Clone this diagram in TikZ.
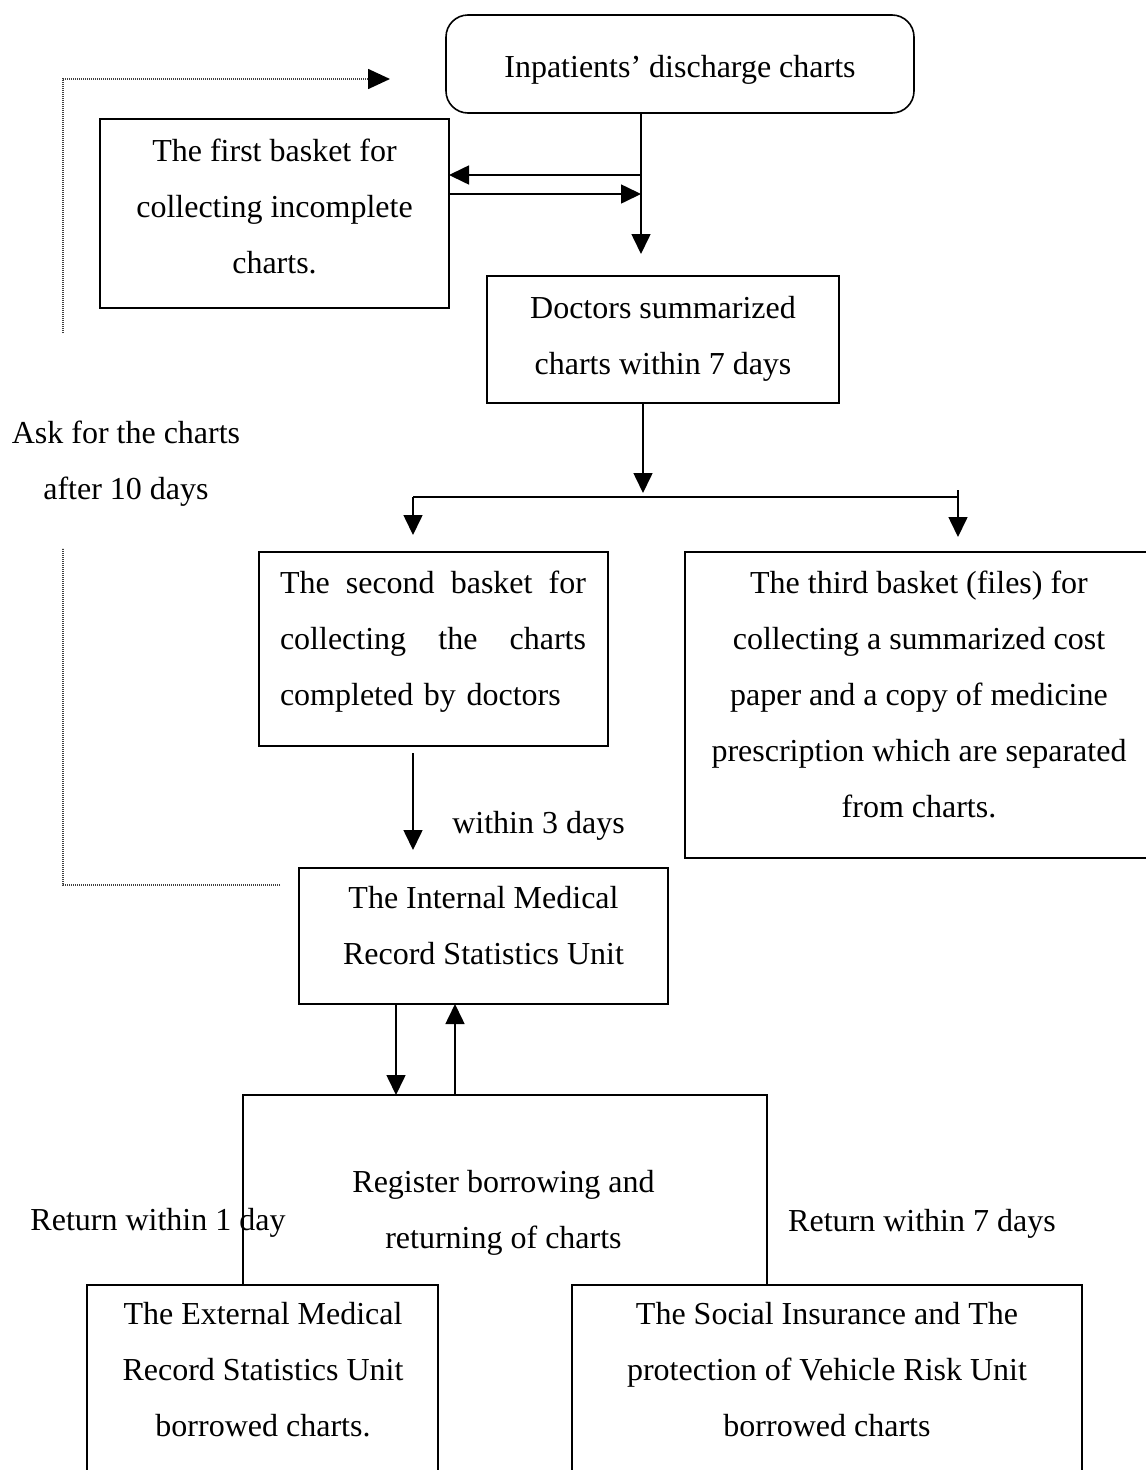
\documentclass[tikz,border=0pt]{standalone}
\usepackage{fontspec}
\setmainfont{Liberation Serif}
\usetikzlibrary{arrows.meta}
\begin{document}
\begin{tikzpicture}[x=1pt,y=-1pt,
  every node/.style={inner sep=0pt, outer sep=0pt,
    font=\fontsize{32}{56}\selectfont\setlength{\parindent}{0pt}},
  box/.style={draw, line width=1.6pt},
  txt/.style={align=center},
  lnk/.style={line width=1.6pt},
  arr/.style={lnk, -{Triangle[length=20pt,width=19pt]}},
  dots/.style={line width=1.7pt, black!75, dash pattern=on 1.2pt off 0.8pt}]

\useasboundingbox (0,0) rectangle (1146,1470);
\clip (0,0) rectangle (1146,1470);

% boxes
\node[box, rounded corners=22pt, minimum width=468, minimum height=98] (in) at (680,64) {};
\node (int0) at (680,70) {Inpatients’ discharge charts};

\node[box, minimum width=349, minimum height=189] (b1) at (274.5,213.5) {};
\node[txt] (b1t) at (274.5,206) {The first basket for\\collecting incomplete\\charts.};

\node[box, minimum width=352, minimum height=127] (doc) at (663,339.5) {};
\node[txt] (doct) at (663,339) {Doctors summarized\\charts within 7 days};

\node[box, minimum width=349, minimum height=194] (b2) at (433.5,649) {};
\node[align=left, text width=306pt] (b2t) at (433,642)
  {The\hfill second\hfill basket\hfill for\\collecting\hfill the\hfill charts\\completed by doctors};

\node[box, minimum width=475, minimum height=306] (b3) at (922.5,705) {};
\node[txt] (b3t) at (919,694.5) {The third basket (files) for\\collecting a summarized cost\\paper and a copy of medicine\\prescription which are separated\\from charts.};

\node[box, minimum width=369, minimum height=136] (int) at (483.5,936) {};
\node[txt] (intt) at (483.5,926) {The Internal Medical\\Record Statistics Unit};

\node[box, minimum width=351, minimum height=225] (ext) at (262.5,1397.5) {};
\node[txt] (extt) at (263,1370) {The External Medical\\Record Statistics Unit\\borrowed charts.};

\node[box, minimum width=510, minimum height=225] (soc) at (827,1397.5) {};
\node[txt] (soct) at (827,1370) {The Social Insurance and The\\protection of Vehicle Risk Unit\\borrowed charts};

% free labels
\node[txt] (ask) at (126,464) {Ask for the charts\\after 10 days};
\node (w3) at (538.5,826) {within 3 days};
\node[txt] (reg) at (503.5,1213) {Register borrowing and\\returning of charts};
\node (ret1) at (158,1223) {Return within 1 day};
\node (ret7) at (922,1224) {Return within 7 days};

% inpatient charts: to doctors and to/from the first basket
\coordinate (xa) at (641,0);
\coordinate (ya) at (0,175);
\coordinate (yb) at (0,194);
\draw[arr, shorten >=22pt] (in.south -| xa) -- (doc.north -| xa);
\draw[arr] (xa |- ya) -- (b1.east |- ya);
\draw[arr] (b1.east |- yb) -- (xa |- yb);

% doctors to the two baskets
\coordinate (xb) at (643,0);
\coordinate (split) at (643,497);
\coordinate (sl) at (413,497);
\coordinate (sr) at (958,497);
\coordinate (st) at (958,490);
\draw[arr, shorten >=4pt] (doc.south -| xb) -- (split);
\draw[lnk] (sl) -- (sr);
\draw[arr, shorten >=17pt] (sl) -- (b2.north -| sl);
\draw[arr, shorten >=15pt] (st) -- (b3.north -| st);

% second basket to the internal unit
\coordinate (xc) at (413,0);
\draw[arr, shorten <=7pt, shorten >=18pt] (b2.south -| xc) -- (int.north -| xc);

% internal unit and the register
\coordinate (rl) at (243,1095);
\coordinate (rr) at (767,1095);
\coordinate (xd) at (396,0);
\coordinate (xe) at (455,0);
\draw[arr] (int.south -| xd) -- (xd |- rl);
\draw[arr] (xe |- rl) -- (int.south -| xe);
\draw[lnk] (ext.north -| rl) -- (rl) -- (rr) -- (soc.north -| rr);

% request after ten days (dotted)
\coordinate (da) at (280,885);
\coordinate (dc) at (63,885);
\coordinate (dd) at (63,548);
\coordinate (de) at (63,333);
\coordinate (df) at (63,79);
\coordinate (dg) at (390,79);
\draw[dots] (da) -- (dc) -- (dd);
\draw[dots, -{Triangle[length=22pt,width=20pt,color=black]}] (de) -- (df) -- (dg);
\end{tikzpicture}
\end{document}
